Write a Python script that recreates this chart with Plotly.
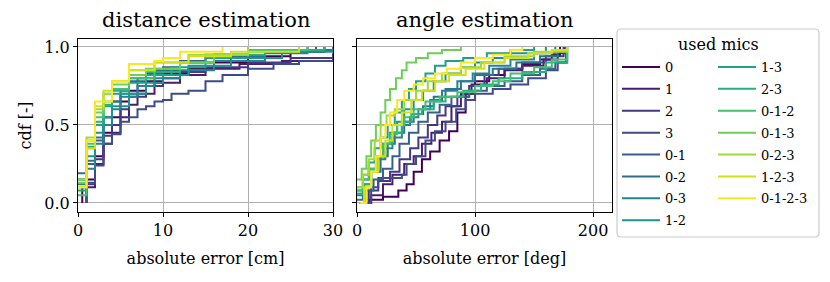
import plotly.graph_objects as go

series_names = ["0", "1", "2", "3", "0-1", "0-2", "0-3", "1-2", "1-3", "2-3",
                "0-1-2", "0-1-3", "0-2-3", "1-2-3", "0-1-2-3"]

colors = ["#440154", "#481c6e", "#453781", "#3e4a89", "#355f8d", "#2c718e",
          "#26828e", "#21918c", "#1fa187", "#29af7f", "#44bf70", "#6ece58",
          "#a0da39", "#d0e11c", "#fde725"]

# distance estimation: absolute error [cm] breakpoints and cdf levels
dist_x = {
    "0": [0.5, 0.5, 1, 2, 3, 4, 5, 6, 8, 10, 13, 16, 20, 25, 29],
    "1": [1, 1, 2, 3, 4, 5, 6, 7, 9, 12, 15, 19, 24, 30],
    "2": [1, 1, 2, 3, 4, 5, 6, 8, 10, 12, 15, 20, 25, 30],
    "3": [1, 1, 2, 3, 4, 5, 6, 7, 8, 9, 10, 11, 13, 15, 17, 20, 23, 26, 30],
    "0-1": [0, 1, 2, 3, 4, 5, 6, 8, 10, 12, 15, 20, 28],
    "0-2": [0, 1, 2, 3, 4, 5, 7, 9, 12, 16, 22, 30],
    "0-3": [0, 1, 2, 3, 4, 5, 7, 9, 12, 16, 22, 27],
    "1-2": [0, 1, 2, 3, 4, 6, 8, 10, 13, 18, 24, 30],
    "1-3": [0, 1, 2, 3, 4, 6, 8, 11, 15, 20, 26],
    "2-3": [0, 1, 2, 3, 4, 6, 8, 12, 16, 22, 29],
    "0-1-2": [0, 1, 2, 3, 4, 6, 9, 12, 16, 20, 27],
    "0-1-3": [0, 1, 2, 3, 4, 6, 8, 12, 16, 20],
    "0-2-3": [0, 1, 2, 3, 4, 6, 9, 13, 20],
    "1-2-3": [0, 1, 2, 3, 4, 6, 9, 13, 18, 26],
    "0-1-2-3": [0, 1, 2, 4, 6, 9, 10, 12, 17],
}
dist_y = {
    "0": [0, 0.10, 0.15, 0.30, 0.45, 0.55, 0.65, 0.72, 0.78, 0.83, 0.86, 0.90, 0.94, 0.97, 1.0],
    "1": [0, 0.10, 0.25, 0.38, 0.45, 0.55, 0.63, 0.70, 0.77, 0.82, 0.86, 0.89, 0.91, 0.93],
    "2": [0, 0.12, 0.28, 0.43, 0.50, 0.60, 0.68, 0.75, 0.80, 0.84, 0.87, 0.90, 0.93, 0.96],
    "3": [0, 0.13, 0.24, 0.38, 0.44, 0.52, 0.55, 0.60, 0.62, 0.65, 0.66, 0.70, 0.72, 0.78, 0.82, 0.86, 0.89, 0.91, 0.94],
    "0-1": [0.15, 0.25, 0.40, 0.55, 0.65, 0.72, 0.78, 0.83, 0.87, 0.91, 0.95, 0.98, 1.0],
    "0-2": [0.19, 0.27, 0.42, 0.55, 0.65, 0.70, 0.80, 0.85, 0.90, 0.94, 0.98, 1.0],
    "0-3": [0.12, 0.22, 0.38, 0.50, 0.60, 0.68, 0.75, 0.80, 0.85, 0.91, 0.96, 1.0],
    "1-2": [0.15, 0.30, 0.45, 0.55, 0.62, 0.70, 0.77, 0.82, 0.88, 0.93, 0.97, 1.0],
    "1-3": [0.08, 0.35, 0.50, 0.62, 0.70, 0.77, 0.82, 0.87, 0.93, 0.97, 1.0],
    "2-3": [0.10, 0.36, 0.52, 0.63, 0.72, 0.80, 0.84, 0.90, 0.95, 0.98, 1.0],
    "0-1-2": [0.05, 0.38, 0.55, 0.65, 0.73, 0.80, 0.86, 0.90, 0.95, 0.98, 1.0],
    "0-1-3": [0.13, 0.40, 0.58, 0.70, 0.76, 0.82, 0.86, 0.90, 0.95, 1.0],
    "0-2-3": [0.15, 0.42, 0.60, 0.70, 0.78, 0.85, 0.90, 0.95, 1.0],
    "1-2-3": [0.10, 0.35, 0.62, 0.72, 0.78, 0.85, 0.90, 0.94, 0.97, 1.0],
    "0-1-2-3": [0.10, 0.40, 0.65, 0.78, 0.89, 0.91, 0.93, 0.97, 1.0],
}

# angle estimation: absolute error [deg] breakpoints and cdf levels
angle_x = {
    "0": [8, 10, 22, 35, 42, 48, 55, 62, 70, 78, 85, 92, 100, 112, 125, 140, 155, 165, 172],
    "1": [5, 12, 22, 30, 40, 48, 55, 63, 72, 80, 88, 97, 110, 125, 140, 158, 170, 176],
    "2": [3, 10, 18, 28, 36, 45, 52, 60, 68, 75, 85, 95, 108, 120, 140, 160, 175],
    "3": [6, 12, 18, 38, 42, 50, 58, 66, 75, 84, 92, 100, 115, 130, 145, 160, 170, 178],
    "0-1": [2, 8, 14, 22, 30, 36, 44, 52, 60, 70, 80, 95, 110, 125, 140, 155, 168, 177],
    "0-2": [0, 5, 12, 20, 26, 32, 40, 48, 56, 65, 75, 88, 100, 115, 135, 155, 170, 177],
    "0-3": [0, 6, 12, 18, 24, 30, 38, 45, 52, 62, 72, 85, 98, 112, 130, 150, 168],
    "1-2": [0, 5, 10, 16, 22, 28, 34, 40, 48, 56, 65, 75, 88, 100, 115, 130, 160],
    "1-3": [0, 5, 10, 15, 20, 26, 32, 38, 44, 50, 58, 66, 75, 90, 110, 130, 150],
    "2-3": [0, 6, 12, 18, 24, 30, 38, 46, 55, 65, 75, 90, 105, 120, 140, 160, 178],
    "0-1-2": [0, 5, 10, 16, 22, 28, 34, 40, 48, 58, 70, 85, 100, 115, 130, 150, 165, 178],
    "0-1-3": [0, 4, 8, 12, 16, 20, 24, 28, 33, 38, 42, 50, 60, 72, 88],
    "0-2-3": [0, 5, 10, 15, 20, 25, 32, 40, 50, 60, 72, 88, 105, 125, 150, 178],
    "1-2-3": [2, 6, 12, 18, 24, 30, 38, 46, 55, 66, 78, 92, 108, 125, 145, 165, 178],
    "0-1-2-3": [3, 8, 12, 16, 20, 24, 28, 34, 40, 48, 56, 66, 76, 88, 100, 115, 130, 140],
}
angle_y = {
    "0": [0, 0.02, 0.04, 0.08, 0.12, 0.20, 0.28, 0.33, 0.40, 0.46, 0.58, 0.70, 0.78, 0.82, 0.86, 0.89, 0.92, 0.95, 1.0],
    "1": [0, 0.05, 0.12, 0.18, 0.25, 0.30, 0.38, 0.45, 0.52, 0.62, 0.70, 0.76, 0.80, 0.85, 0.88, 0.92, 0.96, 1.0],
    "2": [0, 0.08, 0.14, 0.20, 0.28, 0.35, 0.42, 0.50, 0.56, 0.62, 0.68, 0.75, 0.82, 0.86, 0.90, 0.94, 1.0],
    "3": [0, 0.10, 0.16, 0.18, 0.25, 0.30, 0.40, 0.46, 0.52, 0.60, 0.66, 0.70, 0.73, 0.76, 0.80, 0.85, 0.90, 1.0],
    "0-1": [0, 0.08, 0.15, 0.22, 0.30, 0.38, 0.45, 0.52, 0.58, 0.63, 0.68, 0.72, 0.75, 0.78, 0.82, 0.86, 0.90, 1.0],
    "0-2": [0.02, 0.10, 0.20, 0.30, 0.38, 0.45, 0.52, 0.57, 0.62, 0.68, 0.73, 0.78, 0.82, 0.86, 0.90, 0.94, 0.97, 1.0],
    "0-3": [0.05, 0.12, 0.20, 0.28, 0.35, 0.42, 0.50, 0.55, 0.60, 0.66, 0.72, 0.78, 0.83, 0.88, 0.92, 0.96, 1.0],
    "1-2": [0.08, 0.15, 0.22, 0.30, 0.38, 0.45, 0.52, 0.60, 0.66, 0.72, 0.78, 0.83, 0.87, 0.90, 0.93, 0.96, 1.0],
    "1-3": [0.10, 0.18, 0.26, 0.35, 0.42, 0.50, 0.58, 0.66, 0.73, 0.78, 0.83, 0.88, 0.91, 0.93, 0.96, 0.98, 1.0],
    "2-3": [0.06, 0.12, 0.20, 0.30, 0.38, 0.45, 0.52, 0.57, 0.60, 0.65, 0.68, 0.72, 0.76, 0.80, 0.84, 0.90, 1.0],
    "0-1-2": [0.08, 0.15, 0.22, 0.30, 0.38, 0.44, 0.50, 0.55, 0.60, 0.65, 0.68, 0.71, 0.75, 0.78, 0.83, 0.87, 0.92, 1.0],
    "0-1-3": [0.15, 0.22, 0.30, 0.40, 0.50, 0.58, 0.66, 0.73, 0.80, 0.85, 0.90, 0.93, 0.96, 0.98, 1.0],
    "0-2-3": [0.10, 0.18, 0.28, 0.40, 0.50, 0.56, 0.60, 0.66, 0.72, 0.78, 0.83, 0.87, 0.90, 0.94, 0.97, 1.0],
    "1-2-3": [0, 0.10, 0.20, 0.30, 0.40, 0.50, 0.58, 0.66, 0.72, 0.78, 0.82, 0.86, 0.90, 0.93, 0.96, 0.98, 1.0],
    "0-1-2-3": [0, 0.10, 0.20, 0.30, 0.42, 0.50, 0.58, 0.66, 0.72, 0.76, 0.80, 0.83, 0.86, 0.90, 0.93, 0.95, 0.98, 1.0],
}

panel_titles = ["distance estimation", "angle estimation"]
x_titles = ["absolute error [cm]", "absolute error [deg]"]
y_title = "cdf [-]"
legend_title = "used mics"

FONT = "DejaVu Serif"
W, H = 830, 282

def px(v):
    return v / W

def py(v):
    return 1 - v / H

fig = go.Figure()

for i, name in enumerate(series_names):
    leg = "legend" if i < 8 else "legend2"
    fig.add_trace(go.Scatter(
        x=dist_x[name], y=dist_y[name], mode="lines", line_shape="hv",
        line=dict(color=colors[i], width=2), name=name,
        legend=leg, legendgroup=name, showlegend=True,
        xaxis="x", yaxis="y"))
for i, name in enumerate(series_names):
    fig.add_trace(go.Scatter(
        x=angle_x[name], y=angle_y[name], mode="lines", line_shape="hv",
        line=dict(color=colors[i], width=2), name=name,
        legendgroup=name, showlegend=False,
        xaxis="x2", yaxis="y2"))

axis_common = dict(
    showline=True, linecolor="black", linewidth=1.2, mirror=True,
    showgrid=True, gridcolor="#b0b0b0", gridwidth=1,
    ticks="outside", ticklen=4, tickwidth=1.2, tickcolor="black",
    zeroline=False, automargin=False,
    tickfont=dict(family=FONT, size=16, color="black"),
)

# rounded legend frame (pixel coords -> paper)
bx0, bx1, by0, by1, r = 617, 819, 29, 237, 4
frame_path = (
    f"M {px(bx0 + r)},{py(by0)} L {px(bx1 - r)},{py(by0)} "
    f"Q {px(bx1)},{py(by0)} {px(bx1)},{py(by0 + r)} "
    f"L {px(bx1)},{py(by1 - r)} Q {px(bx1)},{py(by1)} {px(bx1 - r)},{py(by1)} "
    f"L {px(bx0 + r)},{py(by1)} Q {px(bx0)},{py(by1)} {px(bx0)},{py(by1 - r)} "
    f"L {px(bx0)},{py(by0 + r)} Q {px(bx0)},{py(by0)} {px(bx0 + r)},{py(by0)} Z"
)

ydom = [py(212), py(39)]
legend_common = dict(xanchor="left", yanchor="top", bgcolor="rgba(0,0,0,0)",
                     borderwidth=0, font=dict(family=FONT, size=13, color="black"),
                     itemwidth=38, tracegroupgap=2)
fig.update_layout(
    width=W, height=H,
    margin=dict(l=0, r=0, t=0, b=0, autoexpand=False),
    paper_bgcolor="white", plot_bgcolor="white",
    font=dict(family=FONT, color="black"),
    xaxis=dict(domain=[px(78), px(333)], range=[0, 30], tickvals=[0, 10, 20, 30],
               anchor="y",
               title=dict(text=x_titles[0], font=dict(family=FONT, size=16), standoff=13),
               **axis_common),
    yaxis=dict(domain=ydom, range=[-0.058, 1.051], tickvals=[0, 0.5, 1.0],
               ticktext=["0.0", "0.5", "1.0"], anchor="x",
               title=dict(text=y_title, font=dict(family=FONT, size=16), standoff=8),
               **axis_common),
    xaxis2=dict(domain=[px(357), px(612)], range=[0, 216], tickvals=[0, 100, 200],
                anchor="y2",
                title=dict(text=x_titles[1], font=dict(family=FONT, size=16), standoff=13),
                **axis_common),
    yaxis2=dict(domain=ydom, range=[-0.058, 1.051], tickvals=[0, 0.5, 1.0],
                showticklabels=False, anchor="x2", **axis_common),
    legend=dict(x=px(617), y=py(52), **legend_common),
    legend2=dict(x=px(713), y=py(52), **legend_common),
    shapes=[dict(type="path", path=frame_path, xref="paper", yref="paper",
                 line=dict(color="#cccccc", width=1.2), fillcolor="rgba(255,255,255,0.8)",
                 layer="below")],
    annotations=[
        dict(text=panel_titles[0], x=(px(78) + px(333)) / 2, y=py(20), xref="paper", yref="paper",
             showarrow=False, font=dict(family=FONT, size=21), xanchor="center", yanchor="middle"),
        dict(text=panel_titles[1], x=(px(357) + px(612)) / 2, y=py(20), xref="paper", yref="paper",
             showarrow=False, font=dict(family=FONT, size=21), xanchor="center", yanchor="middle"),
        dict(text=legend_title, x=px(718), y=py(45), xref="paper", yref="paper",
             showarrow=False, font=dict(family=FONT, size=16), xanchor="center", yanchor="middle"),
    ],
)

fig.write_html("out.html", config={"displayModeBar": False},
               post_script="document.body.style.margin='0';document.body.style.padding='0';")
